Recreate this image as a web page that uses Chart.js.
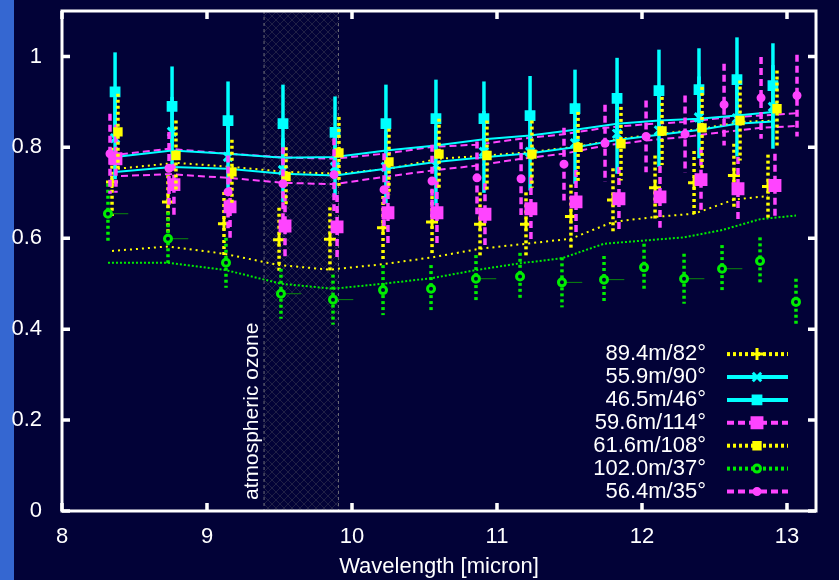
<!DOCTYPE html>
<html>
<head>
<meta charset="utf-8">
<script src="https://cdn.jsdelivr.net/npm/chart.js@4/dist/chart.umd.min.js"></script>
<style>
  html, body { margin: 0; padding: 0; background: #020237; }
  #wrap { width: 839px; height: 580px; }
</style>
</head>
<body>
<div id="wrap"><canvas id="myChart" width="839" height="580"></canvas></div>
<script>
// axis ticks
const xTicks = [8, 9, 10, 11, 12, 13];
const yTicks = [0, 0.2, 0.4, 0.6, 0.8, 1];

// atmospheric ozone band [micron]
const ozoneBand = [9.39, 9.91];

// 89.4m/82°
const lamA = [8.345, 8.731, 9.117, 9.497, 9.848, 10.214, 10.552, 10.883, 11.200, 11.510, 11.800, 12.090, 12.359, 12.634, 12.869];
const valA = [0.724, 0.680, 0.632, 0.597, 0.598, 0.623, 0.636, 0.631, 0.631, 0.648, 0.684, 0.711, 0.722, 0.738, 0.714];
const errA = [0.075, 0.072, 0.070, 0.070, 0.070, 0.070, 0.070, 0.070, 0.070, 0.070, 0.070, 0.071, 0.070, 0.070, 0.070];
const modA = [0.572, 0.582, 0.566, 0.541, 0.531, 0.543, 0.558, 0.577, 0.588, 0.599, 0.636, 0.647, 0.654, 0.685, 0.693];

// 55.9m/90° and 46.5m/46° (same wavelengths)
const lamC = [8.366, 8.759, 9.145, 9.524, 9.883, 10.234, 10.579, 10.910, 11.228, 11.538, 11.828, 12.117, 12.393, 12.655, 12.903];
const valB = [0.820, 0.834, 0.779, 0.750, 0.757, 0.757, 0.760, 0.790, 0.790, 0.809, 0.830, 0.837, 0.866, 0.864, 0.889];
const errB = [0.090, 0.077, 0.074, 0.070, 0.067, 0.080, 0.088, 0.090, 0.085, 0.089, 0.088, 0.080, 0.090, 0.084, 0.092];
const modB = [0.746, 0.757, 0.753, 0.742, 0.738, 0.753, 0.768, 0.778, 0.787, 0.800, 0.816, 0.828, 0.838, 0.852, 0.857];
const valC = [0.922, 0.890, 0.859, 0.852, 0.833, 0.852, 0.863, 0.863, 0.870, 0.885, 0.908, 0.925, 0.927, 0.949, 0.936];
const errC = [0.087, 0.088, 0.086, 0.086, 0.079, 0.086, 0.086, 0.082, 0.087, 0.086, 0.089, 0.090, 0.091, 0.093, 0.093];
const modC = [0.779, 0.793, 0.786, 0.777, 0.779, 0.793, 0.804, 0.818, 0.826, 0.839, 0.852, 0.859, 0.863, 0.870, 0.878];

// 59.6m/114°
const lamD = [8.372, 8.772, 9.159, 9.538, 9.897, 10.248, 10.586, 10.917, 11.234, 11.545, 11.841, 12.124, 12.407, 12.662, 12.917];
const valD = [0.775, 0.718, 0.669, 0.627, 0.625, 0.656, 0.656, 0.653, 0.665, 0.680, 0.687, 0.691, 0.729, 0.709, 0.716];
const errD = [0.075, 0.070, 0.068, 0.070, 0.070, 0.070, 0.070, 0.068, 0.070, 0.070, 0.070, 0.068, 0.070, 0.070, 0.070];

// 61.6m/108°
const lamE = [8.386, 8.786, 9.172, 9.545, 9.910, 10.255, 10.600, 10.931, 11.241, 11.559, 11.855, 12.138, 12.414, 12.676, 12.931];
const valE = [0.834, 0.782, 0.746, 0.736, 0.788, 0.768, 0.785, 0.782, 0.785, 0.800, 0.808, 0.836, 0.843, 0.859, 0.885];
const errE = [0.084, 0.077, 0.071, 0.064, 0.079, 0.073, 0.078, 0.077, 0.074, 0.078, 0.081, 0.075, 0.090, 0.088, 0.084];
const modE = [0.753, 0.766, 0.757, 0.746, 0.742, 0.753, 0.775, 0.782, 0.790, 0.802, 0.819, 0.830, 0.841, 0.856, 0.859];

// 102.0m/37°
const lamF = [8.317, 8.731, 9.131, 9.510, 9.869, 10.214, 10.545, 10.855, 11.159, 11.448, 11.738, 12.014, 12.290, 12.552, 12.814, 13.062];
const valF = [0.654, 0.599, 0.546, 0.478, 0.465, 0.486, 0.489, 0.511, 0.516, 0.503, 0.509, 0.536, 0.511, 0.533, 0.550, 0.460];
const errF = [0.066, 0.058, 0.055, 0.055, 0.055, 0.055, 0.052, 0.052, 0.052, 0.055, 0.052, 0.052, 0.055, 0.052, 0.052, 0.051];
const xErrF = [0.14, 0.14, 0, 0.14, 0.14, 0, 0, 0.14, 0, 0.14, 0.14, 0, 0.14, 0.14, 0, 0];
const modF = [0.546, 0.546, 0.530, 0.500, 0.489, 0.500, 0.512, 0.530, 0.545, 0.556, 0.588, 0.595, 0.602, 0.618, 0.642, 0.650];

// 56.4m/35°
const lamG = [8.331, 8.738, 9.145, 9.524, 9.876, 10.221, 10.552, 10.862, 11.166, 11.462, 11.745, 12.028, 12.297, 12.566, 12.821, 13.069];
const valG = [0.786, 0.754, 0.702, 0.720, 0.740, 0.707, 0.726, 0.733, 0.731, 0.763, 0.809, 0.824, 0.829, 0.894, 0.909, 0.914];
const errG = [0.088, 0.080, 0.080, 0.080, 0.080, 0.080, 0.080, 0.080, 0.080, 0.080, 0.085, 0.079, 0.085, 0.090, 0.090, 0.090];
const modG = [0.782, 0.797, 0.786, 0.778, 0.775, 0.786, 0.801, 0.806, 0.819, 0.829, 0.843, 0.851, 0.856, 0.865, 0.870, 0.875];
const modD = [0.736, 0.741, 0.733, 0.722, 0.719, 0.735, 0.749, 0.760, 0.775, 0.786, 0.804, 0.815, 0.823, 0.834, 0.843, 0.847];

const NAVY = '#020237';
const YEL = '#ffff00', CYA = '#00ffff', MAG = '#ff44ff', GRN = '#00ee00';
const FONT = '"Liberation Sans", Arial, Helvetica, sans-serif';

const pts = (lam, v) => lam.map((x, i) => ({ x, y: v[i] }));

function series(label, lam, val, err, color, dash, style, radius, fill, order) {
  return {
    label, key: true, data: pts(lam, val), err, barDash: dash,
    borderColor: color, pointBackgroundColor: fill || color,
    pointStyle: style, pointRadius: radius, pointBorderWidth: 3,
    showLine: false, order
  };
}
function model(lam, val, color, dash, width) {
  return {
    label: '', data: pts(lam, val), showLine: true, pointRadius: 0,
    borderColor: color, borderWidth: width, borderDash: dash, order: 20
  };
}

const datasets = [
  series('89.4m/82°', lamA, valA, errA, YEL, [3, 3], 'cross', 6, null, 7),
  series('55.9m/90°', lamC, valB, errB, CYA, [], 'crossRot', 6, null, 6),
  series('46.5m/46°', lamC, valC, errC, CYA, [], 'rect', 5.5, null, 5),
  series('59.6m/114°', lamD, valD, errD, MAG, [7, 4], 'rect', 7, null, 4),
  series('61.6m/108°', lamE, valE, errE, YEL, [3, 3], 'rect', 4.5, null, 3),
  series('102.0m/37°', lamF, valF, errF, GRN, [3, 3], 'circle', 3.5, NAVY, 2),
  series('56.4m/35°', lamG, valG, errG, MAG, [7, 4], 'circle', 3, null, 1),
  model(lamA, modA, YEL, [2, 4], 2),
  model(lamC, modB, CYA, [], 2),
  model(lamC, modC, CYA, [], 2),
  model(lamG, modD, MAG, [7, 4], 2),
  model(lamE, modE, YEL, [2, 4], 2),
  model(lamF, modF, GRN, [2, 2], 2),
  model(lamG, modG, MAG, [7, 4], 2)
];
datasets[5].xErr = xErrF;

// background + blue strip on the left
const backdrop = {
  id: 'backdrop',
  beforeDraw(chart) {
    const { ctx, width, height } = chart;
    ctx.save();
    ctx.fillStyle = NAVY;
    ctx.fillRect(0, 0, width, height);
    ctx.fillStyle = '#3567d1';
    ctx.fillRect(0, 0, 14, height);
    ctx.restore();
  }
};

// hatched ozone band with rotated label
const ozone = {
  id: 'ozone',
  beforeDatasetsDraw(chart) {
    const { ctx, chartArea: a, scales: { x } } = chart;
    const x0 = x.getPixelForValue(ozoneBand[0]);
    const x1 = x.getPixelForValue(ozoneBand[1]);
    const tile = document.createElement('canvas');
    tile.width = 8; tile.height = 8;
    const g = tile.getContext('2d');
    g.strokeStyle = 'rgba(110,110,110,0.28)';
    g.lineWidth = 1;
    g.beginPath();
    g.moveTo(0, 0); g.lineTo(8, 8);
    g.moveTo(8, 0); g.lineTo(0, 8);
    g.stroke();
    ctx.save();
    ctx.fillStyle = ctx.createPattern(tile, 'repeat');
    ctx.fillRect(x0, a.top, x1 - x0, a.height);
    ctx.strokeStyle = '#6e6e78';
    ctx.lineWidth = 1;
    ctx.setLineDash([3, 3]);
    ctx.beginPath();
    ctx.moveTo(x0 + 0.5, a.top); ctx.lineTo(x0 + 0.5, a.bottom);
    ctx.moveTo(x1 - 0.5, a.top); ctx.lineTo(x1 - 0.5, a.bottom);
    ctx.stroke();
    ctx.setLineDash([]);
    ctx.translate(x0 - 6, a.bottom - 11);
    ctx.rotate(-Math.PI / 2);
    ctx.fillStyle = '#ffffff';
    ctx.font = '21px ' + FONT;
    ctx.textAlign = 'left';
    ctx.textBaseline = 'alphabetic';
    ctx.fillText('atmospheric ozone', 0, 0);
    ctx.restore();
  }
};

// vertical error bars drawn under each series' markers
const errorBars = {
  id: 'errorBars',
  beforeDatasetDraw(chart, args) {
    const ds = chart.data.datasets[args.index];
    if (!ds.err) return;
    const { ctx, chartArea: a, scales: { x, y } } = chart;
    ctx.save();
    ctx.beginPath();
    ctx.rect(a.left, a.top, a.width, a.height);
    ctx.clip();
    ctx.strokeStyle = ds.borderColor;
    ctx.lineWidth = 3.5;
    ctx.setLineDash(ds.barDash);
    ds.data.forEach((p, i) => {
      const px = x.getPixelForValue(p.x);
      ctx.beginPath();
      ctx.moveTo(px, y.getPixelForValue(p.y + ds.err[i]));
      ctx.lineTo(px, y.getPixelForValue(p.y - ds.err[i]));
      ctx.stroke();
    });
    if (ds.xErr) {
      ctx.setLineDash([]);
      ctx.lineWidth = 1;
      ctx.strokeStyle = '#0b8a0b';
      ds.data.forEach((p, i) => {
        if (!ds.xErr[i]) return;
        const py = y.getPixelForValue(p.y);
        ctx.beginPath();
        ctx.moveTo(x.getPixelForValue(p.x), py);
        ctx.lineTo(x.getPixelForValue(p.x + ds.xErr[i]), py);
        ctx.stroke();
      });
    }
    ctx.restore();
  }
};

// gnuplot style border with inward ticks on all sides
const frame = {
  id: 'frame',
  afterDatasetsDraw(chart) {
    const { ctx, chartArea: a, scales: { x, y } } = chart;
    ctx.save();
    ctx.strokeStyle = '#ffffff';
    ctx.lineWidth = 3;
    ctx.strokeRect(a.left, a.top, a.width, a.height);
    ctx.lineWidth = 3.5;
    ctx.beginPath();
    xTicks.forEach(v => {
      const px = x.getPixelForValue(v);
      ctx.moveTo(px, a.bottom); ctx.lineTo(px, a.bottom - 8);
      ctx.moveTo(px, a.top); ctx.lineTo(px, a.top + 8);
    });
    yTicks.forEach(v => {
      const py = y.getPixelForValue(v);
      ctx.moveTo(a.left, py); ctx.lineTo(a.left + 8, py);
      ctx.moveTo(a.right, py); ctx.lineTo(a.right - 8, py);
    });
    ctx.stroke();
    ctx.restore();
  }
};

// key in the lower right corner
const keyBox = {
  id: 'keyBox',
  afterDraw(chart) {
    const { ctx, chartArea: a } = chart;
    const items = chart.data.datasets.filter(d => d.key);
    ctx.save();
    ctx.font = '22px ' + FONT;
    items.forEach((d, i) => {
      const yy = a.bottom - 19.5 - (items.length - 1 - i) * 22.9;
      ctx.fillStyle = '#ffffff';
      ctx.textAlign = 'right';
      ctx.textBaseline = 'middle';
      ctx.fillText(d.label, a.right - 110, yy);
      ctx.strokeStyle = d.borderColor;
      ctx.lineWidth = 4;
      ctx.setLineDash(d.barDash);
      ctx.beginPath();
      ctx.moveTo(a.right - 89, yy);
      ctx.lineTo(a.right - 28, yy);
      ctx.stroke();
      ctx.setLineDash([]);
      ctx.fillStyle = d.pointBackgroundColor;
      ctx.lineWidth = d.pointBorderWidth;
      Chart.helpers.drawPoint(ctx, { pointStyle: d.pointStyle, radius: d.pointRadius, borderWidth: d.pointBorderWidth }, a.right - 59, yy);
    });
    ctx.restore();
  }
};

Chart.defaults.font.family = FONT;
Chart.defaults.color = '#ffffff';

const noPad = s => { s.paddingTop = 0; s.paddingBottom = 0; s.paddingLeft = 0; s.paddingRight = 0; };

const config = {
  type: 'scatter',
  data: { datasets },
  options: {
    responsive: false,
    animation: false,
    events: [],
    devicePixelRatio: 1,
    layout: { padding: { top: 11, right: 23, left: 0, bottom: 0 } },
    scales: {
      x: {
        type: 'linear',
        min: 8,
        max: 13.2,
        afterBuildTicks: s => { s.ticks = xTicks.map(value => ({ value })); },
        afterFit: s => { s.height = 69; noPad(s); },
        grid: { display: false },
        border: { display: false },
        ticks: { color: '#ffffff', font: { size: 22 }, padding: 5, maxRotation: 0, autoSkip: false, callback: v => String(v) },
        title: { display: true, text: 'Wavelength [micron]', color: '#ffffff', font: { size: 22 }, padding: { top: 0, bottom: 0 } }
      },
      y: {
        min: 0,
        max: 1.1,
        afterBuildTicks: s => { s.ticks = yTicks.map(value => ({ value })); },
        afterFit: s => { s.width = 62; noPad(s); },
        grid: { display: false },
        border: { display: false },
        ticks: { color: '#ffffff', font: { size: 22 }, padding: 12, autoSkip: false, callback: v => String(v) }
      }
    },
    plugins: {
      legend: { display: false },
      tooltip: { enabled: false }
    }
  },
  plugins: [backdrop, ozone, errorBars, frame, keyBox]
};

const myChart = new Chart(document.getElementById('myChart'), config);
</script>
</body>
</html>
